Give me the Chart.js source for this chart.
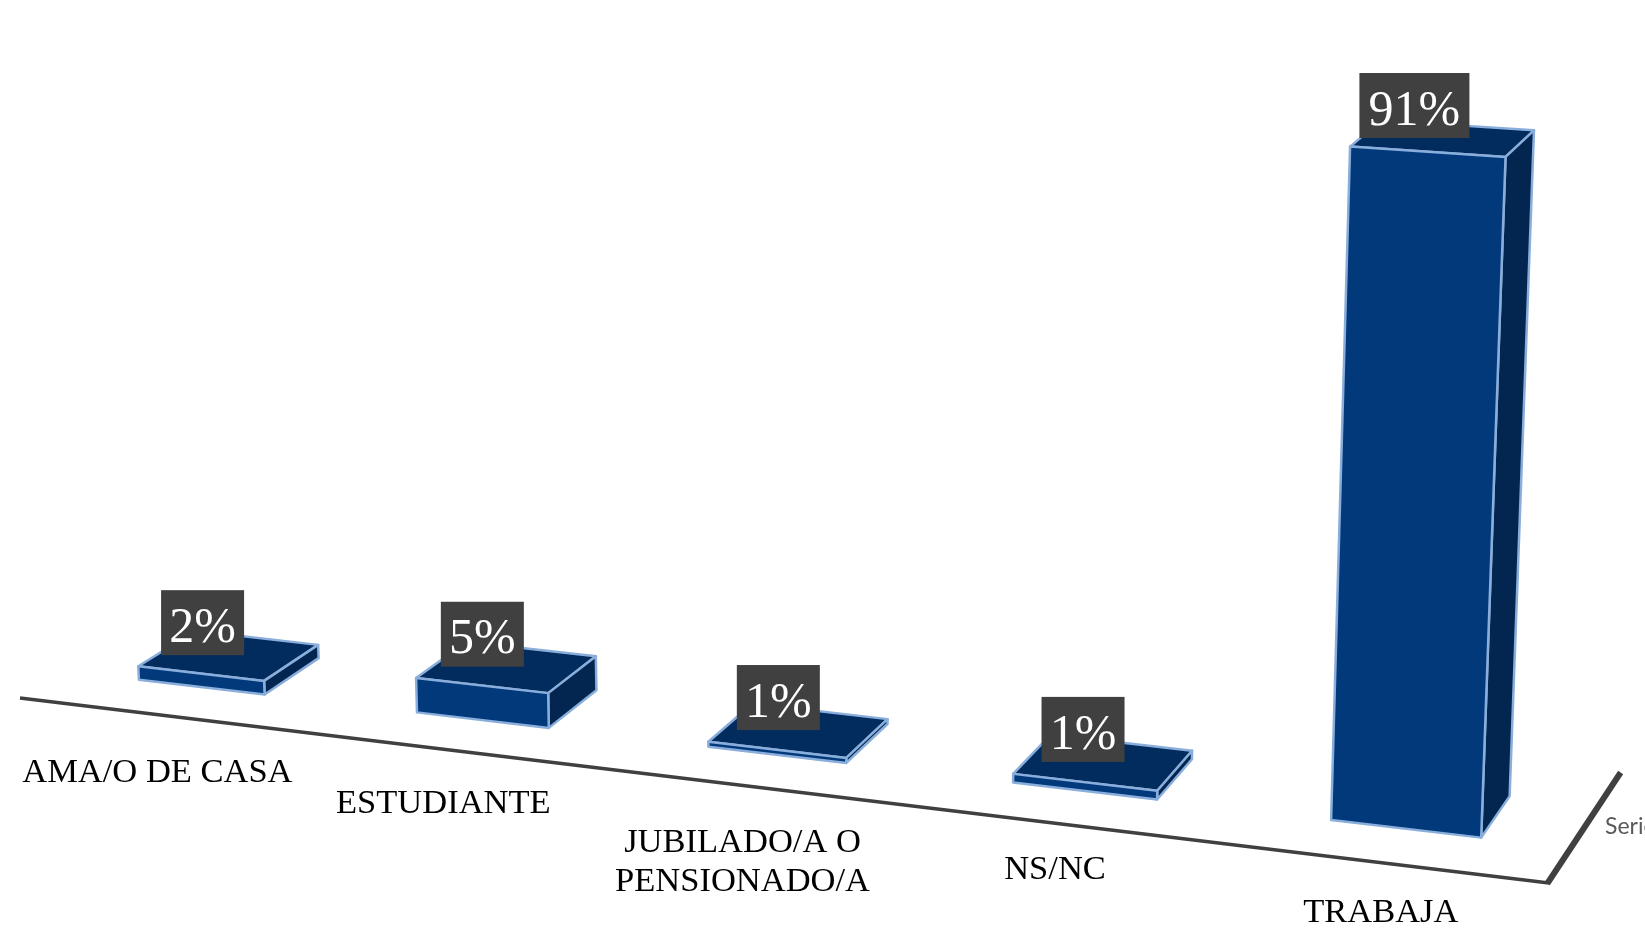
<!DOCTYPE html>
<html>
<head>
<meta charset="utf-8">
<title>Situación laboral</title>
<style>
  html, body { margin: 0; padding: 0; background: #fff; overflow: hidden; }
  canvas { display: block; }
</style>
<script src="https://cdn.jsdelivr.net/npm/chart.js@4/dist/chart.umd.min.js"></script>
</head>
<body>
<canvas id="chart" width="1645" height="928"></canvas>
<script>
const categories = ['AMA/O DE CASA', 'ESTUDIANTE', ['JUBILADO/A O', 'PENSIONADO/A'], 'NS/NC', 'TRABAJA'];
const seriesValues = [2, 5, 0.7, 1.2, 91];
const seriesName = 'Serie1';
const axisMax = 100;

// ajustes de cada etiqueta respecto a su barra
const tickDrop = [86, 84, 88, 79, 84];
const boxNudge = [-2, 0, 4, 4, -4];

const FRONT = '#01397a', TOP = '#022b5e', SIDE = '#02264f', EDGE = '#8aaedb';
const AXIS = '#404040', SERIF = '"Liberation Serif", serif';

// pasa de la posición plana de Chart.js (u en categorías, h en píxeles) a la vista 3D
function project(u, h, d) {
    const baseX = 201.4 + 274.5 * u + 6.65 * u * u;
    const baseY = 687 + 0.1177 * (baseX - 201.4);
    const rise = h * (1 + 0.0237 * (u - 4));
    const lean = 0.032 + 0.0174 * (u - 4);
    return {
        x: baseX + lean * h + d * (55.5 - 6.4 * u),
        y: baseY - rise + d * (-36 - 1.3 * u) * (1 - h * 0.00053)
    };
}

function face(ctx, points, color) {
    ctx.beginPath();
    points.forEach((p, i) => (i ? ctx.lineTo(p.x, p.y) : ctx.moveTo(p.x, p.y)));
    ctx.closePath();
    ctx.fillStyle = color;
    ctx.fill();
    ctx.stroke();
}

const perspectivePlugin = {
    id: 'perspective',
    afterDatasetsDraw(chart) {
        const ctx = chart.ctx;
        const xScale = chart.scales.x;
        const step = chart.chartArea.width / categories.length;
        const toU = px => (px - chart.chartArea.left) / step - 0.5;
        const bars = chart.getDatasetMeta(0).data;

        ctx.save();

        // ejes
        ctx.strokeStyle = AXIS;
        ctx.lineWidth = 3.5;
        ctx.beginPath();
        ctx.moveTo(20, 698);
        ctx.lineTo(1549, 883);
        ctx.stroke();
        ctx.lineWidth = 6;
        ctx.lineCap = 'square';
        ctx.beginPath();
        ctx.moveTo(1549, 881);
        ctx.lineTo(1619, 775);
        ctx.stroke();
        ctx.lineCap = 'butt';

        // barras
        ctx.lineWidth = 2.5;
        ctx.lineJoin = 'round';
        ctx.strokeStyle = EDGE;
        bars.forEach(bar => {
            const { x, y, base, width } = bar.getProps(['x', 'y', 'base', 'width'], true);
            const l = toU(x - width / 2), r = toU(x + width / 2), h = base - y;
            face(ctx, [project(l, h, 0), project(r, h, 0), project(r, h, 1), project(l, h, 1)], TOP);
            face(ctx, [project(r, 0, 0), project(r, 0, 1), project(r, h, 1), project(r, h, 0)], SIDE);
            face(ctx, [project(l, 0, 0), project(r, 0, 0), project(r, h, 0), project(l, h, 0)], FRONT);
        });

        // etiquetas de datos
        ctx.font = '50px ' + SERIF;
        ctx.textAlign = 'center';
        ctx.textBaseline = 'middle';
        bars.forEach((bar, i) => {
            const { x, y, base } = bar.getProps(['x', 'y', 'base'], true);
            const c = project(toU(x), base - y, 0.5);
            const text = Math.round(seriesValues[i]) + '%';
            const w = 29 + 27 * text.length, bh = 65;
            const bx = c.x - 24 + boxNudge[i], by = c.y - 33;
            ctx.fillStyle = AXIS;
            ctx.fillRect(bx - w / 2, by - bh / 2, w, bh);
            ctx.fillStyle = '#fff';
            ctx.fillText(text, bx, by + 6);
        });

        ctx.font = '34.5px ' + SERIF;
        ctx.fillStyle = '#000';
        xScale.getLabels().forEach((label, i) => {
            const u = toU(xScale.getPixelForValue(i));
            const p = project(u, 0, 0);
            const lines = Array.isArray(label) ? label : [label];
            lines.forEach((line, j) => {
                ctx.fillText(line, p.x - 44 + 4.75 * u, p.y + tickDrop[i] + j * 39);
            });
        });

        // nombre de la serie, cortado por el borde como en el original
        ctx.font = '23px Lato, sans-serif';
        ctx.textAlign = 'left';
        ctx.fillStyle = '#595959';
        ctx.fillText(chart.data.datasets[0].label, 1605, 827);

        ctx.restore();
    }
};

new Chart(document.getElementById('chart').getContext('2d'), {
    type: 'bar',
    data: {
        labels: categories,
        datasets: [{
            label: seriesName,
            data: seriesValues,
            backgroundColor: 'rgba(0,0,0,0)',
            categoryPercentage: 1,
            barPercentage: 0.458
        }]
    },
    options: {
        responsive: false,
        animation: false,
        layout: { padding: { top: 100, bottom: 84, left: 0, right: 0 } },
        plugins: { legend: { display: false }, tooltip: { enabled: false } },
        scales: {
            x: { display: false },
            y: { display: false, min: 0, max: axisMax }
        }
    },
    plugins: [perspectivePlugin]
});
</script>
</body>
</html>
